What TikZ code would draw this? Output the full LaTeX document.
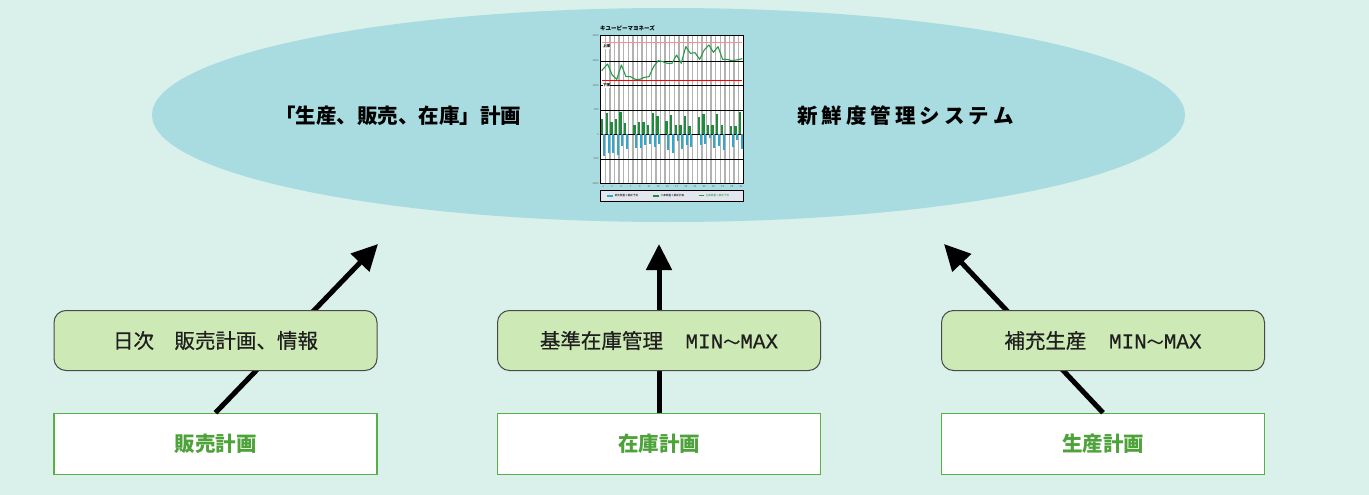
\documentclass[tikz,border=0pt]{standalone}
\usepackage{fontspec}
\newfontfamily\jp{Noto Sans CJK JP}
\newfontfamily\jpm{Noto Sans CJK JP}[FakeBold=0.5]
\newfontfamily\mono{Liberation Mono}[FakeBold=0.4]
\usetikzlibrary{arrows.meta,shapes.geometric}
\definecolor{bgc}{HTML}{DAF0EA}
\definecolor{ellc}{HTML}{A8DCE0}
\definecolor{gfill}{HTML}{CDE9B5}
\definecolor{gborder}{HTML}{4A4A4A}
\definecolor{wborder}{HTML}{5AAE46}
\definecolor{gtext}{HTML}{4EA23A}
\definecolor{cgreen}{HTML}{1E8C3C}
\definecolor{cline}{HTML}{2A9A48}
\definecolor{cblue}{HTML}{2EA8CC}
\definecolor{legbg}{HTML}{E4E6EE}
\tikzset{
  gbox/.style={draw=gborder, line width=1pt, fill=gfill, rounded corners=12pt,
    minimum width=323pt, minimum height=60pt, inner sep=0pt, text=black!88,
    font=\jpm\fontsize{20.5}{22}\selectfont},
  wbox/.style={draw=wborder, line width=1.5pt, fill=white,
    minimum width=323pt, minimum height=61pt, inner sep=0pt,
    font=\jp\bfseries\fontsize{20.5}{22}\selectfont, text=gtext},
  arr/.style={line width=5pt, -{Triangle[length=26pt,width=25pt]}},
  elltext/.style={font=\jp\bfseries\fontsize{20.5}{22}\selectfont, inner sep=0pt},
  tiny/.style={font=\jp\fontsize{2.6}{3}\selectfont, inner sep=0pt},
}
\newcommand{\mnx}{{\mono\fontsize{21}{22}\selectfont MIN}{\fontsize{17}{20}\selectfont ～}{\mono\fontsize{21}{22}\selectfont MAX}}
\begin{document}
\begin{tikzpicture}[x=1pt,y=-1pt]
\path[use as bounding box, fill=bgc] (0,0) rectangle (1369,495);
% ellipse
\node[draw=none, fill=ellc, ellipse, minimum width=1033pt, minimum height=214pt, inner sep=0pt] (ell) at (668.5,115) {};
% texts in ellipse
\node[elltext] (t1) at (398,116) {「生産、販売、在庫」計画};
\node[elltext] (t2) at (905.5,116) {新\kern4pt 鮮\kern4pt 度\kern4pt 管\kern4pt 理\kern4pt シ\kern4pt ス\kern4pt テ\kern4pt ム};
% chart
\node[font=\jp\bfseries\fontsize{5.5}{6}\selectfont, anchor=west, inner sep=0pt] (ctitle) at (600,28.5) {キユーピーマヨネーズ};
\begin{scope}[shift={(580,20)}, x=0.33333pt, y=-0.33333pt]
  \fill[white] (62,47) rectangle (490,490);
  \foreach \k in {1,...,30} {
    \draw[gray!60, line width=1.5pt] ({62+\k*13.806},47) -- ({62+\k*13.806},490);
  }
  \foreach \yy in {123,197,270,343,417} {
    \draw[black, line width=0.8pt] (62,\yy) -- (490,\yy);
  }
  \draw[red!45, line width=1pt] (66,69) -- (486,69);
  \draw[red, line width=1.2pt] (66,181) -- (486,181);
  % bars
  \foreach \i/\g/\b in {1/296/407,2/278/400,3/307/398,4/296/405,5/276/378,6/310/387,
      8/315/383,9/305/385,10/305/375,11/315/372,12/278/380,13/288/373,
      15/303/390,16/286/400,17/316/363,18/315/386,19/287/375,20/317/380,
      22/291/376,23/282/373,24/315/355,25/315/385,26/283/378,27/315/390,
      29/317/380,30/317/360,31/276/387} {
    \pgfmathsetmacro{\c}{62+(\i-0.5)*13.806}
    \fill[cgreen] ({\c-6},\g) rectangle ({\c+1},343);
    \fill[cblue] ({\c},343) rectangle ({\c+6},\b);
  }
  \draw[cline, line width=1.1pt, line join=round]
    plot coordinates {(65,152) (82.7,132) (96.5,165) (110.3,178) (124.1,135) (137.9,170) (151.7,170) (165.5,178) (179.4,178) (193.2,172) (207,170) (220.8,140) (234.6,122) (248.4,125) (262.2,130) (276,130) (289.8,105) (303.6,130) (317.4,80) (331.2,100) (345,98) (358.9,118) (372.7,90) (386.5,75) (400.3,97) (414.1,80) (427.9,118) (441.7,118) (455.5,122) (469.3,120) (487,116)};
  \draw[black, line width=1.5pt] (62,47) rectangle (490,490);
  \node[tiny, fill=white, font=\jp\bfseries\fontsize{3.5}{4}\selectfont, inner sep=0.3pt, anchor=west] (up) at (68,80) {上限};
  \node[tiny, fill=white, font=\jp\bfseries\fontsize{3.5}{4}\selectfont, inner sep=0.3pt, anchor=west] (dn) at (68,197) {下限};
  % y labels
  \foreach \yy/\lab in {47/2000,123/1500,197/1000,270/500,343/0,417/-500,490/-1000} {
    \node[tiny, text=gray!70!black, anchor=east] at (56,\yy) {\lab};
  }
  % x labels
  \foreach \i in {1,3,...,31} {
    \node[tiny, text=gray!70!black] at ({62+(\i-0.5)*13.806},499) {\i};
  }
  % legend
  \draw[black, line width=1.2pt, fill=legbg] (62,512) rectangle (490,545);
  \fill[cblue] (80,525) rectangle (100,531);
  \node[tiny, anchor=west] at (104,528) {販売数量と最新予測};
  \fill[cgreen] (218,525) rectangle (238,531);
  \node[tiny, anchor=west] at (242,528) {入庫数量と最新計画};
  \draw[cline, line width=1pt] (357,528) -- (373,528);
  \node[tiny, anchor=west, text=cline] at (377,528) {在庫数量と最新予測};
\end{scope}
% tips
\coordinate (tipL) at (378,244);
\coordinate (tipM) at (659,244);
\coordinate (tipR) at (944,244);
% white boxes
\node[wbox] (w1) at (215.5,444) {販売計画};
\node[wbox] (w2) at (659,444) {在庫計画};
\node[wbox] (w3) at (1103,444) {生産計画};
% arrows
\draw[arr] (w1.north) -- (tipL);
\draw[arr] (w2.north) -- (tipM);
\draw[arr] (w3.north) -- (tipR);
% green boxes
\node[gbox] (g1) at (215.5,340.5) {日次\hspace{1em}販売計画、情報};
\node[gbox] (g2) at (659,340.5) {基準在庫管理\hspace{1.1em}\mnx};
\node[gbox] (g3) at (1103,340.5) {補充生産\hspace{1.1em}\mnx};
\end{tikzpicture}
\end{document}
